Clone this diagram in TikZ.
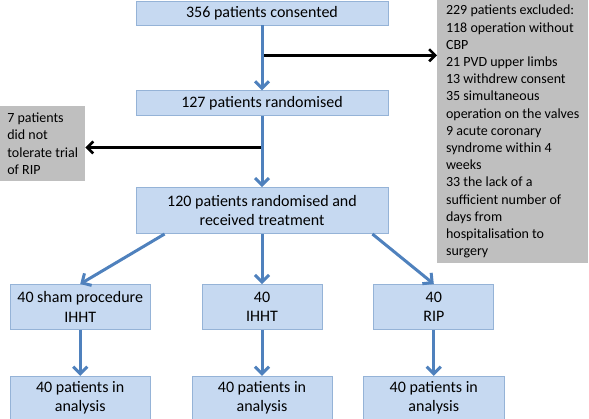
\documentclass[tikz,border=0pt]{standalone}
\usepackage{fontspec}
\setmainfont{Carlito}
\usetikzlibrary{positioning, arrows.meta, calc}
\definecolor{boxfill}{RGB}{198,217,241}
\definecolor{boxline}{RGB}{149,179,215}
\definecolor{arrblue}{RGB}{79,129,189}
\definecolor{exclgrey}{RGB}{191,191,191}

\begin{document}
\begin{tikzpicture}[
    x=1pt, y=-1pt,
    box/.style  = {rectangle, draw=boxline, fill=boxfill, line width=0.8pt,
                   align=center, inner sep=2pt, font=\fontsize{16}{19.5}\selectfont},
    excl/.style = {rectangle, fill=exclgrey, align=left, inner sep=2pt,
                   font=\fontsize{14}{17.2}\selectfont},
    arr/.style  = {-{Straight Barb[length=7pt, width=14pt]}, line width=3pt, arrblue},
    exarr/.style = {-{Straight Barb[length=6pt, width=12pt]}, line width=2.6pt, black}
]
\useasboundingbox (0,0) rectangle (589,418);

% Main column
\node[box, minimum width=252pt, minimum height=24pt] (cons) at (262,13) {356 patients consented};
\node[box, minimum width=252pt, minimum height=25pt, below=65pt of cons] (rand) {127 patients randomised};
\node[box, minimum width=252pt, minimum height=46pt, below=71pt of rand] (treat)
    {120 patients randomised and\\received treatment};

% Groups
\node[box, minimum width=120pt, minimum height=45pt, below=50pt of treat] (ihht) {40\\IHHT};
\node[box, minimum width=140pt, minimum height=45pt, left=51pt of ihht]  (sham) {40 sham procedure\\IHHT};
\node[box, minimum width=120pt, minimum height=45pt, right=51pt of ihht] (rip)  {40\\RIP};

% Analysis
\node[box, minimum width=140pt, minimum height=43pt, below=46pt of sham] (ansham) {40 patients in\\analysis};
\node[box, minimum width=140pt, minimum height=43pt, below=46pt of ihht] (anihht) {40 patients in\\analysis};
\node[box, minimum width=141pt, minimum height=43pt, below=46pt of rip]  (anrip)  {40 patients in\\analysis};

% Exclusions
\node[excl, minimum width=151pt, minimum height=263pt, anchor=north west] (excl) at (437,0)
    {229 patients excluded:\\118 operation without\\CBP\\21 PVD upper limbs\\13 withdrew consent\\
     35 simultaneous\\operation on the valves\\9 acute coronary\\syndrome within 4\\weeks\\
     33 the lack of a\\sufficient number of\\days from\\hospitalisation to\\surgery};
\node[excl, minimum width=85pt, minimum height=75pt, anchor=north west] (norip) at (0,106)
    {7 patients\\did not\\tolerate trial\\of RIP};

% Branches to exclusions
\coordinate (b1) at ($(cons.south)!0.46!(rand.north)$);
\coordinate (b2) at ($(rand.south)!0.44!(treat.north)$);
\draw[exarr] (b1) -- (b1 -| excl.west);
\draw[exarr] (b2) -- (b2 -| norip.east);

% Flow arrows
\draw[arr] (cons)  -- (rand);
\draw[arr] (rand)  -- (treat);
\draw[arr] (treat) -- (ihht);
\draw[arr] ([xshift=29pt]treat.south west)  -- (sham.north);
\draw[arr] ([xshift=-16pt]treat.south east) -- (rip.north);
\draw[arr] (sham) -- (ansham);
\draw[arr] (ihht) -- (anihht);
\draw[arr] (rip)  -- (anrip);
\end{tikzpicture}
\end{document}
